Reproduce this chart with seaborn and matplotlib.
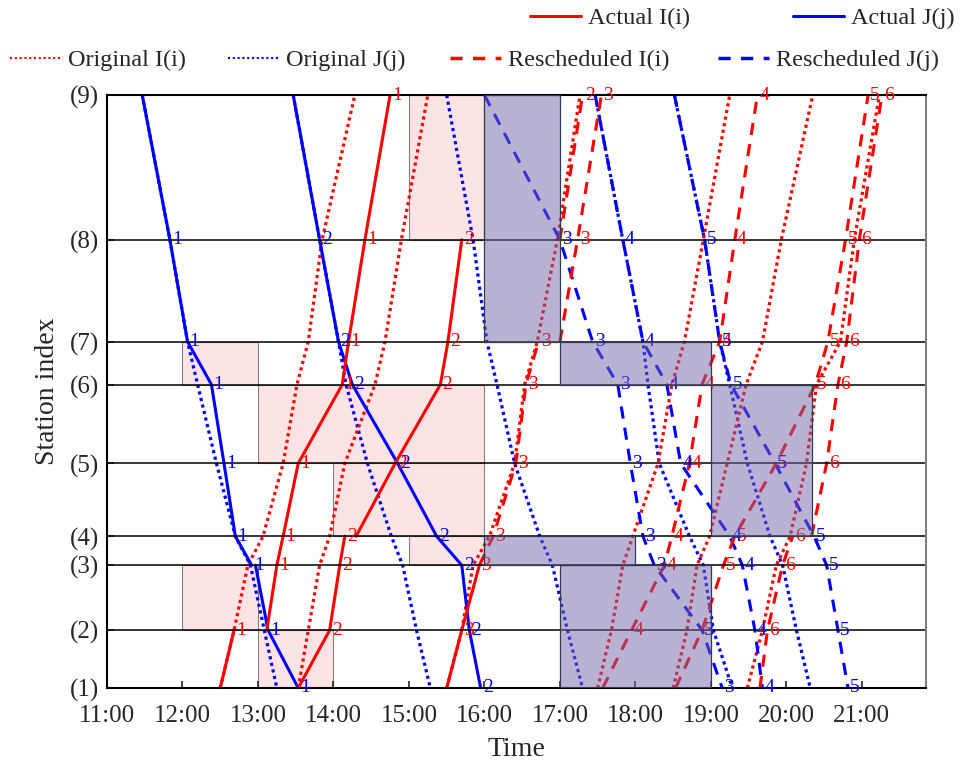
import numpy as np
import pandas as pd
import seaborn as sns
import matplotlib.pyplot as plt
from matplotlib.lines import Line2D
from matplotlib.patches import Rectangle

# station index -> cumulative distance (drawn on the y axis)
station_names = ['(1)', '(2)', '(3)', '(4)', '(5)', '(6)', '(7)', '(8)', '(9)']
station_pos = [0, 58, 123, 152, 225, 304, 347, 449, 594]

hour_ticks = [11, 12, 13, 14, 15, 16, 17, 18, 19, 20, 21]

# original timetable, J runs (9)->(1), I runs (1)->(9)
j_order = [9, 8, 7, 6, 5, 4, 3, 2, 1]
i_order = [1, 2, 3, 4, 5, 6, 7, 8, 9]

original_J = {
    1: ['11:28', '11:50', '12:04', '12:12', '12:27', '12:42', '12:54', '13:05', '13:15'],
    2: ['13:28', '13:49', '14:04', '14:10', '14:27', '14:46', '14:55', '15:06', '15:17'],
    3: ['15:30', '15:51', '16:02', '16:10', '16:24', '16:44', '16:54', '17:06', '17:18'],
    4: ['17:28', '17:50', '18:06', '18:10', '18:19', '18:43', '18:54', '19:02', '19:17'],
    5: ['18:31', '18:55', '19:07', '19:15', '19:29', '19:47', '19:57', '20:08', '20:19'],
}
original_I = {
    1: ['12:30', '12:41', '12:52', '13:04', '13:20', '13:31', '13:40', '13:51', '14:17'],
    2: ['13:32', '13:40', '13:49', '13:57', '14:09', '14:33', '14:41', '14:54', '15:15'],
    3: ['15:30', '15:42', '15:51', '16:04', '16:24', '16:32', '16:42', '16:58', '17:16'],
    4: ['17:30', '17:41', '17:50', '17:58', '18:18', '18:29', '18:39', '18:54', '19:15'],
    5: ['18:30', '18:41', '18:49', '18:59', '19:13', '19:28', '19:41', '19:56', '20:21'],
    6: ['19:29', '19:41', '19:52', '20:03', '20:16', '20:24', '20:43', '20:54', '21:14'],
}

# actual and rescheduled runs as (station, time); a repeated station is a dwell
actual_J = {
    1: [(9, '11:28'), (8, '11:50'), (7, '12:04'), (6, '12:23'), (5, '12:33'), (4, '12:42'),
        (3, '12:55'), (3, '12:58'), (2, '13:08'), (1, '13:32')],
    2: [(9, '13:28'), (8, '13:49'), (7, '14:04'), (6, '14:15'), (5, '14:51'), (4, '15:22'),
        (3, '15:42'), (2, '15:48'), (1, '15:57')],
}
actual_I = {
    1: [(1, '12:30'), (2, '12:41'), (2, '13:07'), (3, '13:15'), (4, '13:20'), (5, '13:32'),
        (6, '14:07'), (7, '14:12'), (8, '14:25'), (9, '14:45')],
    2: [(1, '13:32'), (2, '13:57'), (3, '14:05'), (4, '14:09'), (4, '14:18'), (5, '14:49'),
        (6, '15:25'), (7, '15:31'), (8, '15:42')],
    3: [(1, '15:30'), (2, '15:42'), (3, '15:56')],
}
resched_J = {
    3: [(9, '16:00'), (8, '17:00'), (7, '17:26'), (6, '17:46'), (5, '17:56'), (4, '18:06'),
        (3, '18:15'), (2, '18:53'), (1, '19:09')],
    4: [(9, '17:28'), (8, '17:50'), (7, '18:06'), (6, '18:25'), (5, '18:36'), (4, '19:15'),
        (3, '19:25'), (2, '19:35'), (1, '19:41')],
    5: [(9, '18:31'), (8, '18:55'), (7, '19:07'), (6, '19:16'), (5, '19:51'), (4, '20:22'),
        (3, '20:32'), (2, '20:41'), (1, '20:49')],
}
resched_I = {
    2: [(8, '15:42'), (8, '17:00'), (9, '17:18')],
    3: [(3, '15:56'), (4, '16:07'), (5, '16:25'), (6, '16:33'), (7, '16:43'), (7, '17:00'),
        (8, '17:14'), (9, '17:33')],
    4: [(1, '17:34'), (2, '17:57'), (3, '18:23'), (4, '18:29'), (5, '18:43'), (6, '18:53'),
        (7, '19:07'), (8, '19:19'), (9, '19:37')],
    5: [(1, '18:32'), (2, '18:53'), (3, '19:10'), (4, '19:19'), (5, '19:52'), (6, '20:23'),
        (7, '20:33'), (8, '20:47'), (9, '21:05')],
    6: [(1, '19:39'), (2, '19:45'), (3, '19:57'), (4, '20:05'), (4, '20:20'), (5, '20:32'),
        (6, '20:41'), (7, '20:48'), (8, '20:58'), (9, '21:16')],
}

# blocked sections (start, end, from station, to station)
pink_blocks = [('12:00', '13:00', 6, 7), ('12:00', '13:00', 2, 3), ('13:00', '14:00', 1, 2),
               ('13:00', '16:00', 5, 6), ('14:00', '16:00', 4, 5), ('15:00', '16:00', 3, 4),
               ('15:00', '16:00', 8, 9)]
purple_blocks = [('16:00', '17:00', 7, 9), ('16:00', '18:00', 3, 4), ('17:00', '19:00', 1, 3),
                 ('17:00', '19:00', 6, 7), ('19:00', '20:20', 4, 6)]


def hrs(s):
    h, m = s.split(':')
    return int(h) + int(m) / 60


def pos(st):
    return station_pos[st - 1]


rows = []
for kind, table, order in [('orig', original_J, j_order), ('orig', original_I, i_order)]:
    side = 'J' if order[0] == 9 else 'I'
    for n, times in table.items():
        for st, t in zip(order, times):
            rows.append((kind, side, n, 0, hrs(t), pos(st)))
for kind, side, table in [('actual', 'J', actual_J), ('actual', 'I', actual_I),
                          ('resched', 'J', resched_J), ('resched', 'I', resched_I)]:
    for n, path in table.items():
        seg = 0
        for k, (st, t) in enumerate(path):
            # a dwell starts a new piece, so the wait itself is not drawn
            if k > 0 and path[k - 1][0] == st:
                seg += 1
            rows.append((kind, side, n, seg, hrs(t), pos(st)))
df = pd.DataFrame(rows, columns=['kind', 'side', 'train', 'seg', 'time', 'pos'])

sns.set_theme(style='white')
plt.rcParams['font.family'] = ['Liberation Serif', 'DejaVu Serif']

fig = plt.figure(figsize=(9.63, 7.63), dpi=100)
ax = fig.add_axes([107 / 963, 75 / 763, 819 / 963, 593 / 763])

colors = {'I': '#ff0000', 'J': '#0000ff'}
styles = {
    'actual': dict(linestyle='-', lw=2.2),
    'orig': dict(linestyle=(0, (1, 1.1)), lw=2.3),
    'resched': dict(linestyle=(0, (4, 3)), lw=2.2),
}

for p in pink_blocks:
    x0, x1 = hrs(p[0]), hrs(p[1])
    ax.add_patch(Rectangle((x0, pos(p[2])), x1 - x0, pos(p[3]) - pos(p[2]),
                           facecolor='#fde4e4', edgecolor='#808080', lw=0.8, zorder=0.5))

for (kind, side, n, seg), g in df.groupby(['kind', 'side', 'train', 'seg'], sort=False):
    if len(g) < 2:
        continue
    sns.lineplot(data=g, x='time', y='pos', sort=False, estimator=None,
                 color=colors[side], ax=ax, zorder=2, **styles[kind])

for y in station_pos:
    ax.axhline(y, color='black', lw=1.1, zorder=2.5)

# train number at each station passed by actual / rescheduled runs
for side, act, res in [('I', actual_I, resched_I), ('J', actual_J, resched_J)]:
    for n in sorted(set(act) | set(res)):
        path = act.get(n, []) + res.get(n, [])
        seen = {path[0][0]}
        for st, t in path:
            if st in seen:
                continue
            seen.add(st)
            ax.annotate(str(n), (hrs(t), pos(st)), xytext=(1.5, 0), textcoords='offset points',
                        ha='left', va='center', color=colors[side], fontsize=14, zorder=3)

for p in purple_blocks:
    x0, x1 = hrs(p[0]), hrs(p[1])
    ax.add_patch(Rectangle((x0, pos(p[2])), x1 - x0, pos(p[3]) - pos(p[2]),
                           facecolor=(0.46, 0.40, 0.65, 0.5), edgecolor='#2f3b52', lw=0.9,
                           zorder=4))

ax.set_xlim(11, 21.85)
ax.set_ylim(0, 594)
ax.set_xticks(hour_ticks)
ax.set_xticklabels([f'{h}:00' for h in hour_ticks])
ax.set_yticks(station_pos)
ax.set_yticklabels(station_names)
ax.tick_params(axis='x', direction='in', length=5, width=1.2, labelsize=18, pad=12, colors='#262626')
ax.tick_params(axis='y', direction='in', length=5, width=1.2, labelsize=18, pad=6, colors='#262626')
ax.tick_params(left=True, bottom=True)
ax.set_xlabel('Time', fontsize=20, color='#262626')
ax.set_ylabel('Station index', fontsize=20, color='#262626')
ax.xaxis.set_label_coords(0.5, -0.103)
ax.yaxis.set_label_coords(-0.073, 0.5)
ax.xaxis.label.set_va('center')
ax.yaxis.label.set_va('center')

for name in ['left', 'bottom', 'top']:
    ax.spines[name].set_color('black')
    ax.spines[name].set_linewidth(1.5)
ax.spines['right'].set_color('#808080')
ax.spines['right'].set_linewidth(1.5)
ax.grid(False)

# legend entries placed individually to follow the two-row layout
entries = [
    (Line2D([], [], color='#ff0000', lw=2.2), 'Actual I(i)', 530, 18),
    (Line2D([], [], color='#0000ff', lw=2.2), 'Actual J(j)', 793, 18),
    (Line2D([], [], color='#ff0000', lw=1.5, linestyle=(0, (1, 1.3))), 'Original I(i)', 10, 60),
    (Line2D([], [], color='#0000ff', lw=1.5, linestyle=(0, (1, 1.3))), 'Original J(j)', 228, 60),
    (Line2D([], [], color='#ff0000', lw=2.5, linestyle=(0, (3.5, 3))), 'Rescheduled I(i)', 450, 60),
    (Line2D([], [], color='#0000ff', lw=2.5, linestyle=(0, (3.5, 3))), 'Rescheduled J(j)', 718, 60),
]
for handle, label, px, py in entries:
    fig.legend(handles=[handle], labels=[label], loc='center left',
               bbox_to_anchor=(px / 963, 1 - py / 763), frameon=False, fontsize=17.5,
               handlelength=2.1, handletextpad=0.3, borderpad=0, borderaxespad=0)

fig.savefig('out.png', dpi=100)
